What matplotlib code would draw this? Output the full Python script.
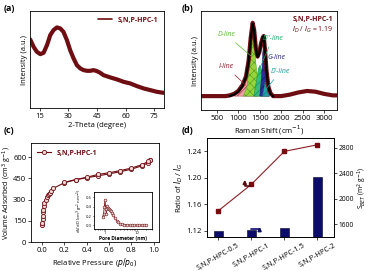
import matplotlib
matplotlib.use("Agg")
import matplotlib.pyplot as plt
import numpy as np

plt.rcParams['font.family'] = ['Open Sans', 'DejaVu Sans']
plt.rcParams['font.size'] = 5.5
plt.rcParams['axes.linewidth'] = 0.6
plt.rcParams['xtick.major.size'] = 2
plt.rcParams['ytick.major.size'] = 2
plt.rcParams['xtick.major.width'] = 0.5
plt.rcParams['ytick.major.width'] = 0.5
plt.rcParams['xtick.major.pad'] = 1.5
plt.rcParams['ytick.major.pad'] = 1.5
plt.rcParams['axes.labelpad'] = 1.5
plt.rcParams['hatch.linewidth'] = 0.4

DARK_RED = '#6e0e12'

# (a) XRD
xrd_theta = [10.1, 11.9, 13.6, 15.4, 17.1, 18.9, 20.6, 22.3, 24.1, 25.8, 27.5, 29.3, 31.0,
             32.8, 34.5, 36.3, 38.0, 39.8, 41.5, 43.2, 45.0, 46.7, 48.4, 52.0, 55.5, 58.9,
             62.4, 65.9, 69.4, 72.9, 76.4, 79.8]
xrd_int = [68.7, 61.3, 56.3, 54.0, 55.3, 63.0, 73.0, 78.0, 80.7, 79.7, 76.3, 68.0, 58.0,
           49.7, 43.0, 39.7, 38.0, 37.3, 37.3, 38.0, 37.0, 35.3, 33.0, 30.7, 28.7, 26.3,
           24.7, 22.0, 19.7, 18.0, 16.3, 15.3]

# (b) Raman
raman_x = [130, 300, 500, 700, 800, 900, 1000, 1100, 1180, 1240, 1290, 1335, 1370, 1410,
           1450, 1490, 1530, 1570, 1592, 1620, 1655, 1700, 1750, 1810, 2000, 2200, 2400,
           2600, 2800, 3000, 3200, 3300]
raman_y = [0.0, 0.0, 0.0, 0.0, 0.01, 0.03, 0.07, 0.15, 0.27, 0.48, 0.8, 1.0, 0.9, 0.65,
           0.54, 0.6, 0.72, 0.8, 0.82, 0.65, 0.36, 0.13, 0.04, 0.0, 0.0, 0.02, 0.05,
           0.07, 0.06, 0.03, 0.01, 0.01]
fit_x = [800, 900, 1000, 1100, 1180, 1240, 1290, 1335, 1370, 1410, 1450, 1490, 1530, 1570,
         1592, 1620, 1655, 1700, 1750, 1810]
fit_y = [0.0, 0.02, 0.06, 0.14, 0.26, 0.47, 0.79, 0.99, 0.89, 0.64, 0.53, 0.59, 0.71, 0.8,
         0.82, 0.64, 0.35, 0.12, 0.03, 0.0]
i_x = [900, 1000, 1080, 1150, 1200, 1250, 1310, 1380, 1450]
i_y = [0.0, 0.04, 0.12, 0.24, 0.29, 0.26, 0.15, 0.05, 0.0]
d_x = [1120, 1200, 1260, 1305, 1335, 1365, 1410, 1470, 1540]
d_y = [0.0, 0.12, 0.42, 0.78, 0.93, 0.8, 0.45, 0.12, 0.0]
d3_x = [1360, 1420, 1470, 1505, 1550, 1600, 1660, 1720]
d3_y = [0.0, 0.2, 0.38, 0.42, 0.33, 0.15, 0.04, 0.0]
g_x = [1500, 1540, 1570, 1590, 1610, 1640, 1680, 1720]
g_y = [0.0, 0.25, 0.6, 0.7, 0.58, 0.26, 0.05, 0.0]
d2_x = [1560, 1595, 1625, 1655, 1690, 1730]
d2_y = [0.0, 0.1, 0.2, 0.14, 0.04, 0.0]

# (c) N2 isotherm
ads_p = [0.001, 0.002, 0.003, 0.005, 0.008, 0.01, 0.015, 0.02, 0.03, 0.04, 0.05, 0.06, 0.07,
         0.08, 0.1, 0.2, 0.3, 0.4, 0.5, 0.6, 0.7, 0.8, 0.9, 0.95, 0.97]
ads_v = [120, 135, 160, 185, 210, 230, 255, 275, 300, 318, 330, 342, 350, 360, 380, 420, 440,
         455, 468, 482, 497, 515, 540, 560, 580]
des_p = [0.97, 0.95, 0.9, 0.8, 0.7, 0.6, 0.5, 0.4, 0.3, 0.2]
des_v = [580, 570, 548, 523, 505, 490, 478, 458, 442, 422]
pore_d = [0.85, 0.9, 0.95, 1.0, 1.05, 1.1, 1.15, 1.2, 1.3, 1.4, 1.5, 1.6, 1.8, 2.0, 2.3, 2.6,
          3.0, 3.5, 4.0, 5.0, 6.0, 7.0, 8.0, 10.0, 12.0, 14.0, 17.0, 20.0]
pore_dv = [0.18, 0.25, 0.4, 0.55, 0.35, 0.25, 0.42, 0.38, 0.35, 0.32, 0.3, 0.27, 0.22, 0.16,
           0.1, 0.06, 0.03, 0.02, 0.01, 0.01, 0.0, 0.0, 0.0, 0.0, 0.0, 0.0, 0.0, 0.0]

# (d) ratio and surface area
samples = ['S,N,P-HPC-0.5', 'S,N,P-HPC-1', 'S,N,P-HPC-1.5', 'S,N,P-HPC-2']
ratio = [1.15, 1.19, 1.24, 1.25]
s_bet = [1490, 1510, 1550, 2340]

fig = plt.figure(figsize=(3.7, 2.71), dpi=100)

# ---- (a)
ax = fig.add_axes([0.081, 0.601, 0.362, 0.358])
ax.plot(xrd_theta, xrd_int, color=DARK_RED, lw=3, solid_capstyle='round', label='S,N,P-HPC-1')
ax.set_xlim(10, 80)
ax.set_ylim(0, 97)
ax.set_xticks([15, 30, 45, 60, 75])
ax.set_yticks([])
ax.set_xlabel('2-Theta (degree)')
ax.set_ylabel('Intensity (a.u.)')
leg = ax.legend(loc='upper right', frameon=False, handlelength=1.8, borderaxespad=0.3)
for t in leg.get_texts():
    t.set_color(DARK_RED)
    t.set_fontweight('bold')
    t.set_fontsize(5)
for h in leg.get_lines():
    h.set_linewidth(1.2)

# ---- (b)
ax = fig.add_axes([0.543, 0.594, 0.368, 0.365])
ax.plot(raman_x, raman_y, color=DARK_RED, lw=3, solid_joinstyle='round')
ax.fill_between(i_x, i_y, color='#e9a3a6', edgecolor='#9a2030', hatch='/////', lw=0.3)
ax.fill_between(d_x, d_y, color='#9ad43c', edgecolor='#4a9a20', hatch='xxxx', lw=0.3)
ax.fill_between(d3_x, d3_y, color='#34c07a', edgecolor='#1a8050', hatch='////', lw=0.3)
ax.fill_between(g_x, g_y, color='#2d2d9c', edgecolor='#14145a', hatch='////', lw=0.3)
ax.fill_between(d2_x, d2_y, color='#1fa3a8', edgecolor='#0d6a6e', hatch='////', lw=0.3)
ax.plot(fit_x, fit_y, color='black', lw=1.5)
ax.set_xlim(130, 3300)
ax.set_ylim(-0.19, 1.16)
ax.set_xticks([500, 1000, 1500, 2000, 2500, 3000])
ax.set_yticks([])
ax.set_xlabel('Raman Shift (cm$^{-1}$)')
ax.set_ylabel('Intensity (a.u.)')
ax.text(0.97, 0.95, 'S,N,P-HPC-1', transform=ax.transAxes, ha='right', va='top',
        color=DARK_RED, fontweight='bold', fontsize=5)
ax.text(0.97, 0.86, '$I_D$ / $I_G$ = 1.19', transform=ax.transAxes, ha='right', va='top',
        color=DARK_RED, fontsize=5)
labels_b = [('D-line', (720, 0.84), (1290, 0.55), '#5cb82e'),
            ("D''-line", (1800, 0.79), (1480, 0.35), '#1fb36a'),
            ('I-line', (720, 0.40), (1170, 0.15), '#8a1a22'),
            ('G-line', (1890, 0.53), (1590, 0.4), '#2a2a8a'),
            ("D'-line", (1990, 0.34), (1650, 0.1), '#1a9a9e')]
for txt, tpos, ppos, col in labels_b:
    ax.annotate(txt, xy=ppos, xytext=tpos, color=col, fontsize=5, style='italic',
                ha='center', va='center',
                arrowprops=dict(arrowstyle='-', color=col, lw=0.5, shrinkA=2, shrinkB=0))

# ---- (c)
ax = fig.add_axes([0.084, 0.107, 0.346, 0.365])
ax.plot(ads_p, ads_v, color=DARK_RED, lw=0.8, marker='o', ms=3, mfc='#f0d8d8',
        mec=DARK_RED, mew=0.6, label='S,N,P-HPC-1')
ax.plot(des_p, des_v, color=DARK_RED, lw=0.8, marker='o', ms=3, mfc='#f0d8d8',
        mec=DARK_RED, mew=0.6)
ax.set_xlim(-0.1, 1.05)
ax.set_ylim(0, 700)
ax.set_xticks([0.0, 0.2, 0.4, 0.6, 0.8, 1.0])
ax.set_yticks([0, 150, 300, 450, 600])
ax.set_xlabel('Relative Pressure ($p/p_0$)')
ax.set_ylabel('Volume Adsorbed (cm$^3$ g$^{-1}$)', fontsize=5.1)
ax.yaxis.set_label_coords(-0.13, 0.5)
leg = ax.legend(loc='upper left', frameon=False, handlelength=1.8, borderaxespad=0.4)
for t in leg.get_texts():
    t.set_color(DARK_RED)
    t.set_fontweight('bold')
    t.set_fontsize(5)

ins = fig.add_axes([0.254, 0.155, 0.157, 0.137])
ins.plot(pore_d, pore_dv, color=DARK_RED, lw=0.6, marker='o', ms=2, mfc='#f0d8d8',
         mec=DARK_RED, mew=0.4)
ins.set_xscale('log')
ins.set_xlim(0.45, 30)
ins.set_ylim(-0.08, 0.72)
ins.set_yticks([0.0, 0.2, 0.4, 0.6])
ins.set_xticks([1, 10])
ins.set_xticklabels(['1', '10'])
ins.tick_params(labelsize=3, length=1, pad=0.8)
ins.tick_params(which='minor', length=0.6)
ins.set_xlabel('Pore Diameter (nm)', fontsize=3.5, labelpad=0.5, fontweight='bold')
ins.set_ylabel('dV/dD (cm$^3$ g$^{-1}$ nm$^{-1}$)', fontsize=3, labelpad=0.5)

# ---- (d)
ax = fig.add_axes([0.559, 0.125, 0.345, 0.365])
ax2 = ax.twinx()
pos = np.arange(len(samples))
ax.plot(pos, ratio, color='#8b1f24', lw=0.8, marker='s', ms=3.2, mfc='#7a0c10', mec='#7a0c10')
ax2.bar(pos, np.array(s_bet) - 1400, bottom=1400, width=0.28, color='#0c0c6a',
        edgecolor='#000020', lw=0.4)
ax.set_xlim(-0.35, 3.52)
ax.set_ylim(1.11, 1.26)
ax.set_yticks([1.12, 1.16, 1.20, 1.24])
ax.set_yticklabels(['1.12', '1.16', '1.20', '1.24'])
ax2.set_ylim(1400, 2950)
ax2.set_yticks([1600, 2000, 2400, 2800])
ax2.tick_params(axis='y', labelsize=4.8, pad=1)
ax.set_xticks(pos)
ax.set_xticklabels(samples, rotation=30, ha='center', fontsize=5.3)
ax.set_ylabel('Ratio of $I_D$ / $I_G$')
ax2.set_ylabel('S$_{BET}$ (m$^2$ g$^{-1}$)', fontsize=4.8)
ax2.yaxis.set_label_coords(1.17, 0.5)
ax.annotate('', xy=(0.8, 1.197), xytext=(1.0, 1.188),
            arrowprops=dict(arrowstyle='-|>', connectionstyle='angle,angleA=0,angleB=90',
                            color='#5a0a0e', lw=1.2, mutation_scale=5, shrinkA=0, shrinkB=0))
ax2.annotate('', xy=(1.25, 1560), xytext=(1.0, 1520),
             arrowprops=dict(arrowstyle='-|>', connectionstyle='angle,angleA=0,angleB=90',
                             color='#0c0c6a', lw=1.2, mutation_scale=5, shrinkA=0, shrinkB=0))

for lab, x, y in [('(a)', 0.01, 0.985), ('(b)', 0.49, 0.985), ('(c)', 0.01, 0.535), ('(d)', 0.49, 0.535)]:
    fig.text(x, y, lab, fontsize=6.5, fontweight='bold', va='top')

fig.savefig('out.png', dpi=100)
